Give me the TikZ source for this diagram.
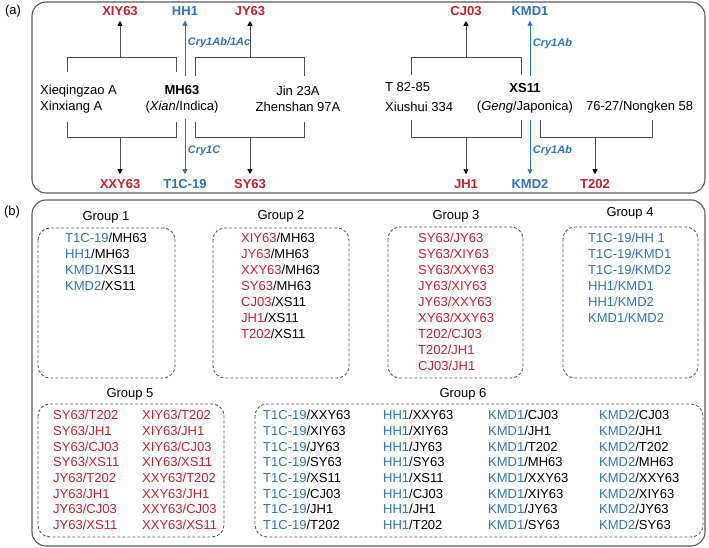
\documentclass[tikz,border=0pt]{standalone}
\usepackage{fontspec}
\setmainfont{Liberation Sans}
\usepackage{xcolor}
\usepackage{tikz}
\usetikzlibrary{arrows.meta}
\definecolor{ctred}{HTML}{C8202E}
\definecolor{ctblue}{HTML}{2B74C0}
\definecolor{lngray}{HTML}{4D4D4D}
\definecolor{boxgray}{HTML}{5A5A5A}
\newcommand{\rdtxt}[1]{\textcolor{ctred}{#1}}
\newcommand{\bltxt}[1]{\textcolor{ctblue}{#1}}

\begin{document}
\begin{tikzpicture}[x=1pt, y=-1pt,
    panel/.style={draw=boxgray, line width=1.1pt, rounded corners=14pt},
    grpbox/.style={draw=boxgray, line width=0.9pt, dash pattern=on 3pt off 2pt, rounded corners=12pt},
    parent/.style={font=\fontsize{13}{16}\selectfont, align=center, inner sep=1pt},
    redlab/.style={font=\fontsize{13}{16}\selectfont\bfseries, text=ctred, inner xsep=1pt, inner ysep=5pt},
    bluelab/.style={redlab, text=ctblue},
    brk/.style={draw=lngray, line width=0.9pt},
    arr/.style={brk, -{Triangle[length=5pt, width=5pt, color=black]}},
    barr/.style={draw=ctblue, line width=0.8pt, -{Triangle[length=5pt, width=5pt]}},
    cry/.style={font=\fontsize{11}{12}\selectfont\bfseries\itshape, text=ctblue, inner sep=1.5pt, xshift=1pt},
    grptitle/.style={font=\fontsize{13}{16}\selectfont},
    pairs/.style={font=\fontsize{13}{16}\selectfont, align=left, anchor=north west, inner sep=0pt},
    pairs8/.style={pairs, font=\fontsize{13}{15.7}\selectfont},
]
\useasboundingbox (0,0) rectangle (709,548);

% panels
\node[grptitle] (pa) at (13,11) {(a)};
\node[grptitle] (pb) at (12,212) {(b)};
\draw[panel] (32,2) rectangle (705,193);
\draw[panel] (32,200) rectangle (705,546);

% (a) MH63 family
\node[redlab] (XIY63) at (120,11) {XIY63};
\node[bluelab] (HH1) at (185,11) {HH1};
\node[redlab] (JY63) at (250,11) {JY63};
\node[redlab] (XXY63) at (120,184) {XXY63};
\node[bluelab] (T1C19) at (185,184) {T1C-19};
\node[redlab] (SY63) at (250,184) {SY63};
\node[parent, align=left, anchor=west] (XQZ) at (39,99) {Xieqingzao A\\Xinxiang A};
\node[parent] (MH63) at (182,99) {\textbf{MH63}\\(\textit{Xian}/Indica)};
\node[parent] (JIN) at (298,99) {Jin 23A\\Zhenshan 97A};

\draw[brk] (67,72) -- (67,57) -- (176,57) -- (176,72);
\draw[brk] (195,76) -- (195,57) -- (304,57) -- (304,76);
\draw[brk] (67,122) -- (67,137) -- (176,137) -- (176,122);
\draw[brk] (195,122) -- (195,137) -- (304,137) -- (304,122);
\coordinate (mhTL) at (120,57);
\coordinate (mhTR) at (250,57);
\coordinate (mhBL) at (120,137);
\coordinate (mhBR) at (250,137);
\coordinate (mhU) at (185,76);
\coordinate (mhD) at (185,119);
\draw[arr] (mhTL) -- (XIY63);
\draw[arr] (mhTR) -- (JY63);
\draw[arr] (mhBL) -- (XXY63);
\draw[arr] (mhBR) -- (SY63);
\draw[barr] (mhU) -- node[cry, right, pos=0.6] {Cry1Ab/1Ac} (HH1);
\draw[barr] (mhD) -- node[cry, right, pos=0.58] {Cry1C} (T1C19);

% (a) XS11 family
\node[redlab] (CJ03) at (466,11) {CJ03};
\node[bluelab] (KMD1) at (530,11) {KMD1};
\node[redlab] (JH1) at (466,184) {JH1};
\node[bluelab] (KMD2) at (530,184) {KMD2};
\node[redlab] (T202) at (595,184) {T202};
\node[parent, align=left, anchor=west] (T8285) at (384,97) {T 82-85\\[4pt]Xiushui 334};
\node[parent] (XS11) at (525,98) {\textbf{XS11}\\[2pt](\textit{Geng}/Japonica)};
\node[parent, anchor=west] (NK58) at (585,107) {76-27/Nongken 58};

\draw[brk] (411,75) -- (411,57) -- (521,57) -- (521,75);
\draw[brk] (411,120) -- (411,137) -- (521,137) -- (521,120);
\draw[brk] (540,120) -- (540,137) -- (652,137) -- (652,120);
\coordinate (xsTL) at (466,57);
\coordinate (xsBL) at (466,137);
\coordinate (xsBR) at (595,137);
\coordinate (xsU) at (530,76);
\coordinate (xsD) at (530,120);
\draw[arr] (xsTL) -- (CJ03);
\draw[arr] (xsBL) -- (JH1);
\draw[arr] (xsBR) -- (T202);
\draw[barr] (xsU) -- node[cry, right, pos=0.58] {Cry1Ab} (KMD1);
\draw[barr] (xsD) -- node[cry, right, pos=0.57] {Cry1Ab} (KMD2);

% (b) groups
\node[grptitle] (g1) at (106,217) {Group 1};
\node[grptitle] (g2) at (281,216) {Group 2};
\node[grptitle] (g3) at (456,216) {Group 3};
\node[grptitle] (g4) at (630,213) {Group 4};
\node[grptitle] (g5) at (130,394) {Group 5};
\node[grptitle] (g6) at (463,394) {Group 6};
\draw[grpbox] (38,228) rectangle (175,378);
\draw[grpbox] (213,228) rectangle (349,378);
\draw[grpbox] (388,227) rectangle (523,378);
\draw[grpbox] (563,227) rectangle (698,378);
\draw[grpbox] (38,404) rectangle (224,537);
\draw[grpbox] (255,404) rectangle (703,537);

\node[pairs] (l1) at (65,233) {\bltxt{T1C-19}/MH63\\\bltxt{HH1}/MH63\\\bltxt{KMD1}/XS11\\\bltxt{KMD2}/XS11};
\node[pairs] (l2) at (241,233) {\rdtxt{XIY63}/MH63\\\rdtxt{JY63}/MH63\\\rdtxt{XXY63}/MH63\\\rdtxt{SY63}/MH63\\\rdtxt{CJ03}/XS11\\\rdtxt{JH1}/XS11\\\rdtxt{T202}/XS11};
\node[pairs, text=ctred] (l3) at (418,233) {SY63/JY63\\SY63/XIY63\\SY63/XXY63\\JY63/XIY63\\JY63/XXY63\\XY63/XXY63\\T202/CJ03\\T202/JH1\\CJ03/JH1};
\node[pairs, text=ctblue] (l4) at (588,233) {T1C-19/HH 1\\T1C-19/KMD1\\T1C-19/KMD2\\HH1/KMD1\\HH1/KMD2\\KMD1/KMD2};

\node[pairs8, text=ctred] (l5a) at (53,410) {SY63/T202\\SY63/JH1\\SY63/CJ03\\SY63/XS11\\JY63/T202\\JY63/JH1\\JY63/CJ03\\JY63/XS11};
\node[pairs8, text=ctred] (l5b) at (142,410) {XIY63/T202\\XIY63/JH1\\XIY63/CJ03\\XIY63/XS11\\XXY63/T202\\XXY63/JH1\\XXY63/CJ03\\XXY63/XS11};

\node[pairs8] (l6a) at (263,410) {\bltxt{T1C-19}/XXY63\\\bltxt{T1C-19}/XIY63\\\bltxt{T1C-19}/JY63\\\bltxt{T1C-19}/SY63\\\bltxt{T1C-19}/XS11\\\bltxt{T1C-19}/CJ03\\\bltxt{T1C-19}/JH1\\\bltxt{T1C-19}/T202};
\node[pairs8] (l6b) at (383,410) {\bltxt{HH1}/XXY63\\\bltxt{HH1}/XIY63\\\bltxt{HH1}/JY63\\\bltxt{HH1}/SY63\\\bltxt{HH1}/XS11\\\bltxt{HH1}/CJ03\\\bltxt{HH1}/JH1\\\bltxt{HH1}/T202};
\node[pairs8] (l6c) at (488,410) {\bltxt{KMD1}/CJ03\\\bltxt{KMD1}/JH1\\\bltxt{KMD1}/T202\\\bltxt{KMD1}/MH63\\\bltxt{KMD1}/XXY63\\\bltxt{KMD1}/XIY63\\\bltxt{KMD1}/JY63\\\bltxt{KMD1}/SY63};
\node[pairs8] (l6d) at (599,410) {\bltxt{KMD2}/CJ03\\\bltxt{KMD2}/JH1\\\bltxt{KMD2}/T202\\\bltxt{KMD2}/MH63\\\bltxt{KMD2}/XXY63\\\bltxt{KMD2}/XIY63\\\bltxt{KMD2}/JY63\\\bltxt{KMD2}/SY63};
\end{tikzpicture}
\end{document}
